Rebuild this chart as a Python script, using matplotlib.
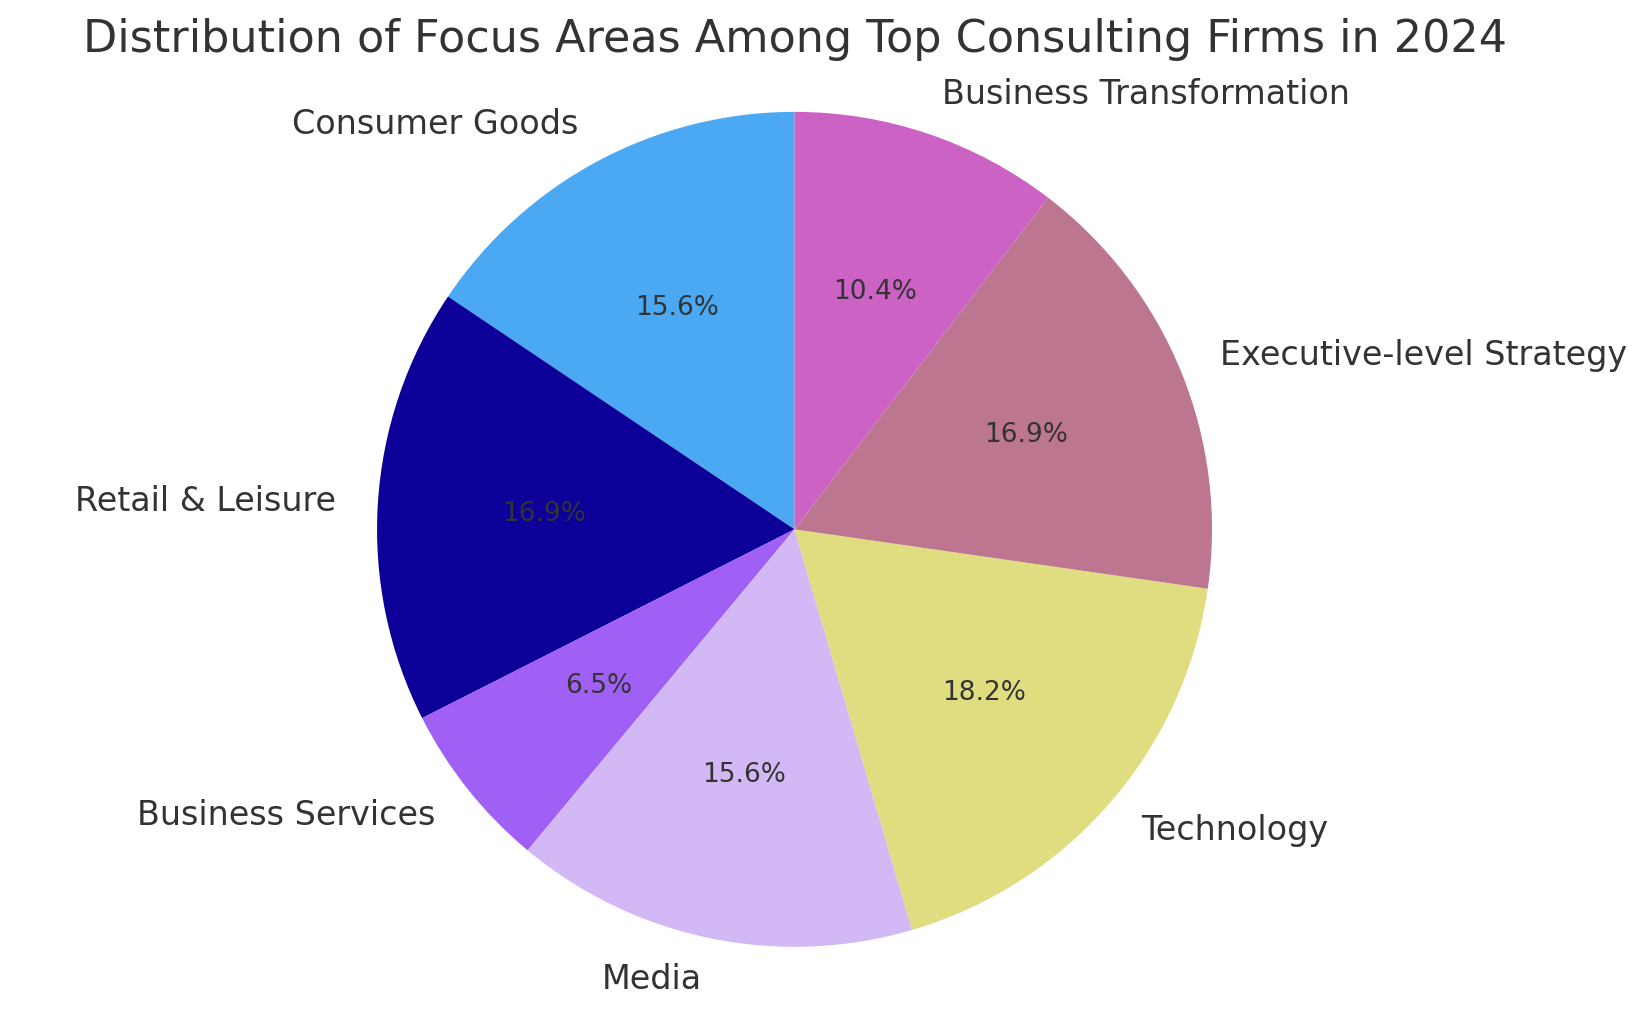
import matplotlib.pyplot as plt

labels = ["Consumer Goods", "Retail & Leisure", "Business Services", "Media",
          "Technology", "Executive-level Strategy", "Business Transformation"]
values = [12, 13, 5, 12, 14, 13, 8]
colors = ["#4BA9F3", "#0D0099", "#A060F5", "#D2B8F5", "#E0DD80", "#BC7690", "#CB62C4"]

fig, ax = plt.subplots(figsize=(16.45, 10.16), dpi=100)
wedges, texts, autotexts = ax.pie(values, labels=labels, colors=colors, startangle=90,
                                  autopct="%1.1f%%", textprops={"color": "#333333"})
for t in texts:
    t.set_fontsize(24)
for t in autotexts:
    t.set_fontsize(19)
ax.axis("equal")
fig.suptitle("Distribution of Focus Areas Among Top Consulting Firms in 2024",
             fontsize=32, color="#333333", x=0.483, y=0.961, va="center")
plt.subplots_adjust(left=0.0, right=0.966, top=0.931, bottom=0.027)
plt.savefig("out.png")
